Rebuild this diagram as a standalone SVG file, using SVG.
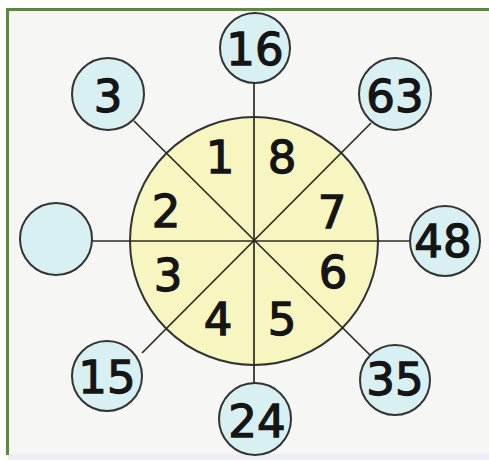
<svg xmlns="http://www.w3.org/2000/svg" width="489" height="460" viewBox="0 0 489 460">
<style>
.num{font-family:"DejaVu Sans","Liberation Sans",sans-serif;font-size:45px;fill:#151515;stroke:#151515;stroke-width:1.3;text-anchor:middle}
.out{fill:#d8f0f2;stroke:#333;stroke-width:2}
.ln{stroke:#2e2a20;stroke-width:1.7;fill:none}
</style>
<rect x="0" y="0" width="489" height="460" fill="#ffffff"/>
<rect x="8" y="10" width="481" height="446" fill="#f6f6f5"/>
<rect x="8" y="454" width="481" height="6" fill="#eeeef6"/>
<path d="M7.5 455 V9.5 H489" fill="none" stroke="#5a8a3a" stroke-width="3"/>
<g id="center">
<circle cx="254" cy="241" r="124" fill="#f7f5c0" stroke="#333" stroke-width="2"/>
</g>
<g id="connectors">
<line class="ln" x1="254" y1="83" x2="254" y2="383"/>
<line class="ln" x1="92" y1="241" x2="409" y2="241"/>
<line class="ln" x1="134" y1="121" x2="371" y2="356"/>
<line class="ln" x1="371" y1="123" x2="142" y2="353"/>
</g>
<g id="seg1"><text class="num" x="220" y="173">1</text></g>
<g id="seg8"><text class="num" x="282" y="173">8</text></g>
<g id="seg2"><text class="num" x="166" y="227">2</text></g>
<g id="seg7"><text class="num" x="332" y="228">7</text></g>
<g id="seg3"><text class="num" x="168" y="291">3</text></g>
<g id="seg6"><text class="num" x="333" y="288">6</text></g>
<g id="seg4"><text class="num" x="218" y="335">4</text></g>
<g id="seg5"><text class="num" x="282" y="335">5</text></g>
<g id="n16"><circle class="out" cx="255" cy="48" r="35"/><text class="num" x="255" y="65">16</text></g>
<g id="n63"><circle class="out" cx="395" cy="94" r="36"/><text class="num" x="395" y="112">63</text></g>
<g id="n48"><circle class="out" cx="445" cy="241" r="35"/><text class="num" x="443" y="257">48</text></g>
<g id="n35"><circle class="out" cx="395" cy="380" r="35"/><text class="num" x="395" y="395">35</text></g>
<g id="n24"><circle class="out" cx="255" cy="419" r="36"/><text class="num" x="257" y="437">24</text></g>
<g id="n15"><circle class="out" cx="107" cy="376" r="35"/><text class="num" x="107" y="393">15</text></g>
<g id="nempty"><circle class="out" cx="56" cy="239" r="36"/></g>
<g id="n3"><circle class="out" cx="108" cy="94" r="36"/><text class="num" x="108" y="112">3</text></g>
</svg>
